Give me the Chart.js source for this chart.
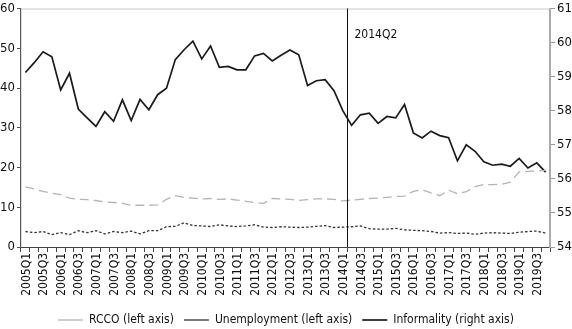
<!DOCTYPE html>
<html><head><meta charset="utf-8">
<script src="https://cdn.jsdelivr.net/npm/chart.js@4"></script>
<style>html,body{margin:0;padding:0;background:#fff}#wrap{width:572px;height:329px;position:relative}</style>
</head><body><div id="wrap"><canvas id="c"></canvas></div>
<script>
const years = [2005,2006,2007,2008,2009,2010,2011,2012,2013,2014,2015,2016,2017,2018,2019];
const quarters = [];
years.forEach(y => { for (let q = 1; q <= 4; q++) quarters.push(y + 'Q' + q); });

const rcco = [15.1,14.6,14.0,13.5,13.2,12.3,12.0,11.9,11.7,11.3,
  11.2,11.0,10.5,10.5,10.5,10.6,12.0,12.9,12.5,12.3,
  12.1,12.2,12.0,12.1,11.8,11.5,11.2,11.0,12.2,12.1,
  12.0,11.7,11.9,12.1,12.1,12.0,11.6,11.8,12.0,12.2,
  12.3,12.5,12.7,12.8,14.0,14.4,13.6,12.9,14.3,13.4,
  13.9,15.2,15.7,15.7,15.8,16.3,18.9,19.0,19.1,19.3];

const unemployment = [3.9,3.6,3.9,3.1,3.6,3.1,4.1,3.6,4.1,3.3,
  3.9,3.6,4.0,3.3,4.1,4.1,5.1,5.2,6.1,5.4,
  5.3,5.15,5.6,5.3,5.15,5.3,5.6,5.0,4.9,5.1,
  5.0,4.9,5.0,5.2,5.4,4.9,5.0,5.1,5.3,4.6,
  4.5,4.5,4.7,4.3,4.2,4.1,3.9,3.5,3.6,3.4,
  3.5,3.2,3.5,3.6,3.5,3.4,3.7,3.9,4.0,3.5];

const informality = [59.12,59.41,59.73,59.58,58.61,59.10,58.05,57.79,57.54,57.97,
  57.69,58.32,57.71,58.33,58.03,58.47,58.66,59.50,59.79,60.04,
  59.52,59.90,59.27,59.30,59.20,59.20,59.61,59.68,59.46,59.63,
  59.78,59.64,58.74,58.88,58.91,58.59,58.00,57.57,57.88,57.93,
  57.63,57.83,57.79,58.18,57.35,57.20,57.40,57.27,57.21,56.53,
  57.00,56.81,56.50,56.40,56.43,56.37,56.60,56.32,56.47,56.20];

const leftTicks = [0,10,20,30,40,50,60];
const rightTicks = [54,55,56,57,58,59,60,61];
const markerLabel = '2014Q2';
const seriesNames = ['RCCO (left axis)','Unemployment (left axis)','Informality (right axis)'];

const FONT = "'DejaVu Sans Condensed','Liberation Sans Narrow',sans-serif";

const markerPlugin = {
  id: 'marker',
  afterDatasetsDraw(chart) {
    const {ctx, chartArea, scales} = chart;
    const idx = quarters.indexOf(markerLabel) - 0.5;
    const x = Math.round(scales.x.getPixelForValue(idx)) + 0.5;
    ctx.save();
    ctx.strokeStyle = '#111';
    ctx.lineWidth = 1;
    ctx.beginPath();
    ctx.moveTo(x, chartArea.top);
    ctx.lineTo(x, chartArea.bottom);
    ctx.stroke();
    ctx.fillStyle = '#111';
    ctx.font = '12px ' + FONT;
    ctx.textBaseline = 'middle';
    ctx.fillText(markerLabel, x + 7, chartArea.top + 26);
    ctx.restore();
  },
  beforeDatasetsDraw(chart) {
    const {ctx, chartArea} = chart;
    ctx.save();
    ctx.strokeStyle = '#c8c8c8';
    ctx.lineWidth = 1;
    ctx.beginPath();
    ctx.moveTo(chartArea.left, chartArea.top + 0.5);
    ctx.lineTo(chartArea.right, chartArea.top + 0.5);
    ctx.stroke();
    ctx.restore();
  }
};

new Chart(document.getElementById('c'), {
  type: 'line',
  data: {
    labels: quarters,
    datasets: [
      {label: seriesNames[0], data: rcco, yAxisID: 'y', borderColor: '#b4b4b4', borderWidth: 1.3, borderDash: [9,5]},
      {label: seriesNames[1], data: unemployment, yAxisID: 'y', borderColor: '#333', borderWidth: 1.3, borderDash: [2.5,2]},
      {label: seriesNames[2], data: informality, yAxisID: 'y1', borderColor: '#1a1a1a', borderWidth: 1.7}
    ]
  },
  options: {
    responsive: true, maintainAspectRatio: false, animation: false, devicePixelRatio: 1,
    layout: {padding: {left: 0, right: 0, top: 0, bottom: -7}},
    elements: {point: {radius: 0}, line: {tension: 0}},
    plugins: {
      tooltip: {enabled: false},
      legend: {
        position: 'bottom',
        labels: {
          usePointStyle: true, pointStyle: 'line', pointStyleWidth: 25, boxHeight: 8,
          padding: 10, color: '#111', font: {family: FONT, size: 12}
        }
      }
    },
    scales: {
      x: {
        offset: true,
        grid: {offset: true, drawOnChartArea: false, drawTicks: true, tickLength: 5, color: '#444'},
        border: {color: '#444', width: 1},
        ticks: {autoSkip: false, maxRotation: 90, minRotation: 90, padding: 1, labelOffset: 1, color: '#111',
          font: {family: FONT, size: 12},
          callback: (v, i) => (i % 2 === 0 ? quarters[i] : '')},
        afterFit(s) { s.height = 57; }
      },
      y: {
        position: 'left', min: 0, max: 60,
        afterBuildTicks(s) { s.ticks = leftTicks.map(v => ({value: v})); },
        grid: {drawOnChartArea: false, tickLength: 4, color: '#555'},
        border: {color: '#555', width: 1.2},
        ticks: {padding: 2, color: '#111', font: {family: FONT, size: 13, lineHeight: 1}},
        afterFit(s) { s.width = 21; }
      },
      y1: {
        position: 'right', min: 54, max: 61,
        afterBuildTicks(s) { s.ticks = rightTicks.map(v => ({value: v})); },
        grid: {drawOnChartArea: false, tickLength: 5, color: '#999'},
        border: {color: '#aaa', width: 2},
        ticks: {padding: 2, color: '#111', font: {family: FONT, size: 13, lineHeight: 1}},
        afterFit(s) { s.width = 22; }
      }
    }
  },
  plugins: [markerPlugin]
});
</script>
</body></html>
